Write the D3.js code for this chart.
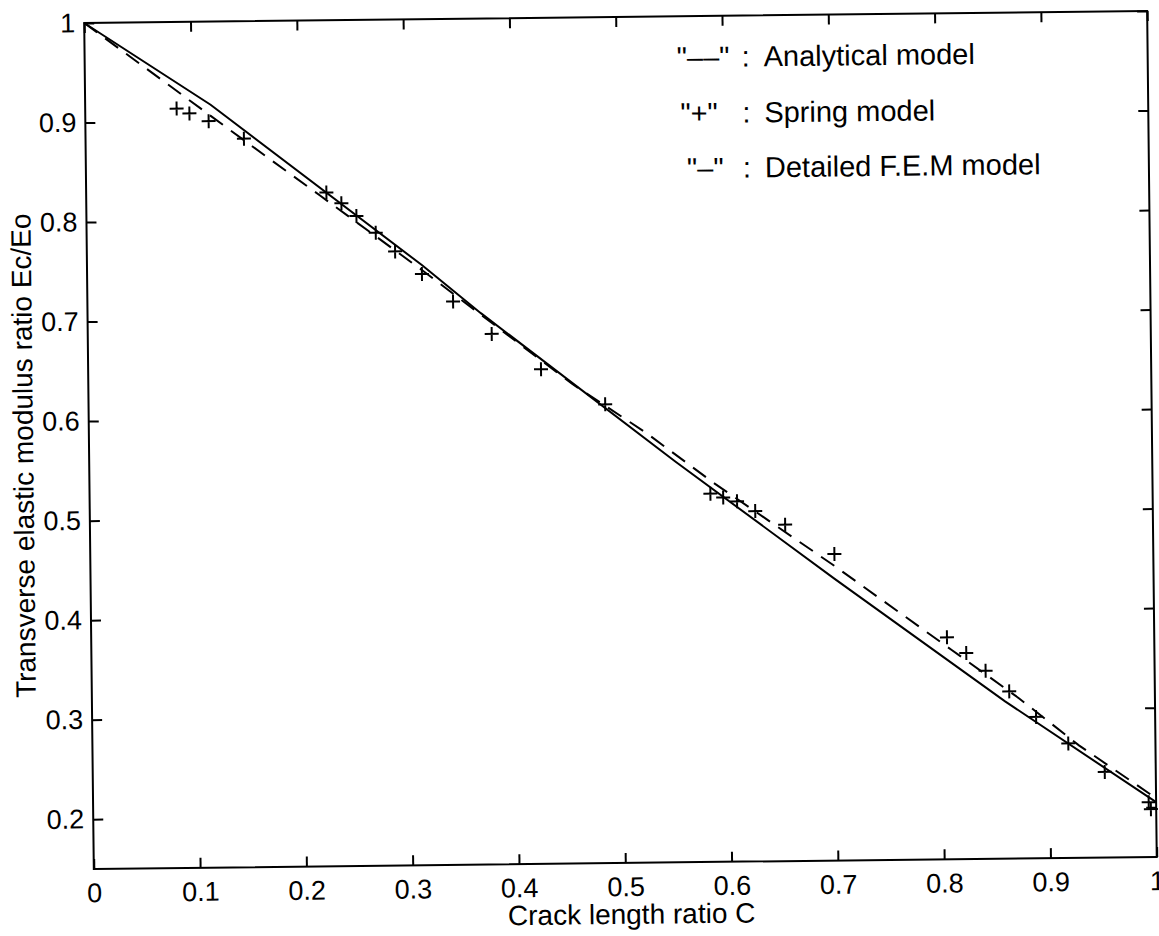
<!DOCTYPE html>
<html>
<head>
<meta charset="utf-8">
<script src="https://cdn.jsdelivr.net/npm/d3@7"></script>
<style>
  html, body { margin: 0; padding: 0; background: #fff; }
  svg { display: block; }
  text { font-family: "Liberation Sans", Arial, Helvetica, sans-serif; fill: #000; }
</style>
</head>
<body>
<svg id="chart" width="1159" height="936"></svg>
<script>
// Spring model ("+")
const springC = [0.086, 0.098, 0.116, 0.149, 0.226, 0.240, 0.254, 0.272, 0.290, 0.315, 0.344, 0.380, 0.426, 0.486, 0.584, 0.596, 0.609, 0.626, 0.654, 0.700, 0.805, 0.823, 0.841, 0.863, 0.888, 0.918, 0.952, 0.993, 0.995];
const springE = [0.913, 0.908, 0.900, 0.882, 0.827, 0.816, 0.803, 0.786, 0.767, 0.744, 0.716, 0.683, 0.647, 0.611, 0.520, 0.516, 0.512, 0.502, 0.488, 0.458, 0.373, 0.357, 0.339, 0.318, 0.292, 0.265, 0.236, 0.205, 0.198];
// Detailed F.E.M model (solid)
const femC = [0, 0.118, 0.315, 0.370, 0.551, 0.700, 0.859, 1.0];
const femE = [1, 0.9165, 0.753, 0.704, 0.553, 0.433, 0.308, 0.205];
// Analytical model (dashed)
const anaC = [0, 0.157, 0.220, 0.315, 0.367, 0.455, 0.524, 0.587, 0.700, 0.809, 0.872, 0.928, 1.0];
const anaE = [1, 0.874, 0.824, 0.748, 0.705, 0.632, 0.582, 0.531, 0.446, 0.3605, 0.311, 0.263, 0.209];

const xTicks = [0, 0.1, 0.2, 0.3, 0.4, 0.5, 0.6, 0.7, 0.8, 0.9, 1];
const yTicks = [0.2, 0.3, 0.4, 0.5, 0.6, 0.7, 0.8, 0.9, 1];
const legendKeys = ['"\u2013\u2013"', '"+"', '"\u2013"'];
const legendLabels = ["Analytical model", "Spring model", "Detailed F.E.M  model"];

const svg = d3.select("#chart");
const L = 89, R = 1152, T = 23, B = 869;
const x = d3.scaleLinear().domain([0, 1]).range([L, R]);
const y = d3.scaleLinear().domain([0.15, 1]).range([B, T]);
const fmt = d => d === 0 ? "0" : d === 1 ? "1" : d3.format(".1f")(d);

// the scanned figure is slightly rotated
const root = svg.append("g").attr("transform", `rotate(-0.65, ${L}, 445)`);

root.append("rect").attr("x", L).attr("y", T).attr("width", R - L).attr("height", B - T)
  .attr("fill", "none").attr("stroke", "#000").attr("stroke-width", 2);

const tickLen = 10;
const gB = root.append("g").attr("transform", `translate(0,${B})`)
  .call(d3.axisBottom(x).tickValues(xTicks).tickSize(-tickLen).tickPadding(14).tickFormat(fmt));
const gT = root.append("g").attr("transform", `translate(0,${T})`)
  .call(d3.axisTop(x).tickValues(xTicks).tickSize(-tickLen).tickFormat(""));
const gL = root.append("g").attr("transform", `translate(${L},0)`)
  .call(d3.axisLeft(y).tickValues(yTicks).tickSize(-tickLen).tickPadding(9).tickFormat(fmt));
const gR = root.append("g").attr("transform", `translate(${R},0)`)
  .call(d3.axisRight(y).tickValues(yTicks).tickSize(-tickLen).tickFormat(""));

[gB, gT, gL, gR].forEach(g => {
  g.select(".domain").remove();
  g.selectAll(".tick line").attr("stroke", "#000").attr("stroke-width", 2);
  g.selectAll("text").attr("font-size", 27).attr("font-family", '"Liberation Sans", Arial, sans-serif').attr("fill", "#000");
});

// axis titles
root.append("text").attr("x", 750).attr("y", 930).attr("text-anchor", "end")
  .attr("font-size", 28).text("Crack length ratio C");
root.append("text").attr("transform", `translate(33,455) rotate(-90)`)
  .attr("text-anchor", "middle").attr("font-size", 28).text("Transverse elastic modulus ratio Ec/Eo");

// lines
const line = d3.line().x(d => x(d[0])).y(d => y(d[1]));
root.append("path").datum(femC.map((c, i) => [c, femE[i]]))
  .attr("d", line).attr("fill", "none").attr("stroke", "#000").attr("stroke-width", 2);
root.append("path").datum(anaC.map((c, i) => [c, anaE[i]]))
  .attr("d", line).attr("fill", "none").attr("stroke", "#000").attr("stroke-width", 2)
  .attr("stroke-dasharray", "16,10");

// spring markers
const ms = 7;
root.append("g").selectAll("path").data(springC.map((c, i) => [c, springE[i]]))
  .join("path")
  .attr("d", d => `M${x(d[0]) - ms},${y(d[1])}H${x(d[0]) + ms}M${x(d[0])},${y(d[1]) - ms}V${y(d[1]) + ms}`)
  .attr("stroke", "#000").attr("stroke-width", 2).attr("fill", "none");

// legend
const lg = root.append("g");
const rowsY = [74, 130, 185];
const keyX = [681, 684, 690];
legendLabels.forEach((lab, i) => {
  lg.append("text").attr("x", keyX[i]).attr("y", rowsY[i]).attr("font-size", 29).text(legendKeys[i]);
  lg.append("text").attr("x", 746).attr("y", rowsY[i]).attr("font-size", 29).text(":");
  lg.append("text").attr("x", 768).attr("y", rowsY[i]).attr("font-size", 29).text(lab);
});
</script>
</body>
</html>
